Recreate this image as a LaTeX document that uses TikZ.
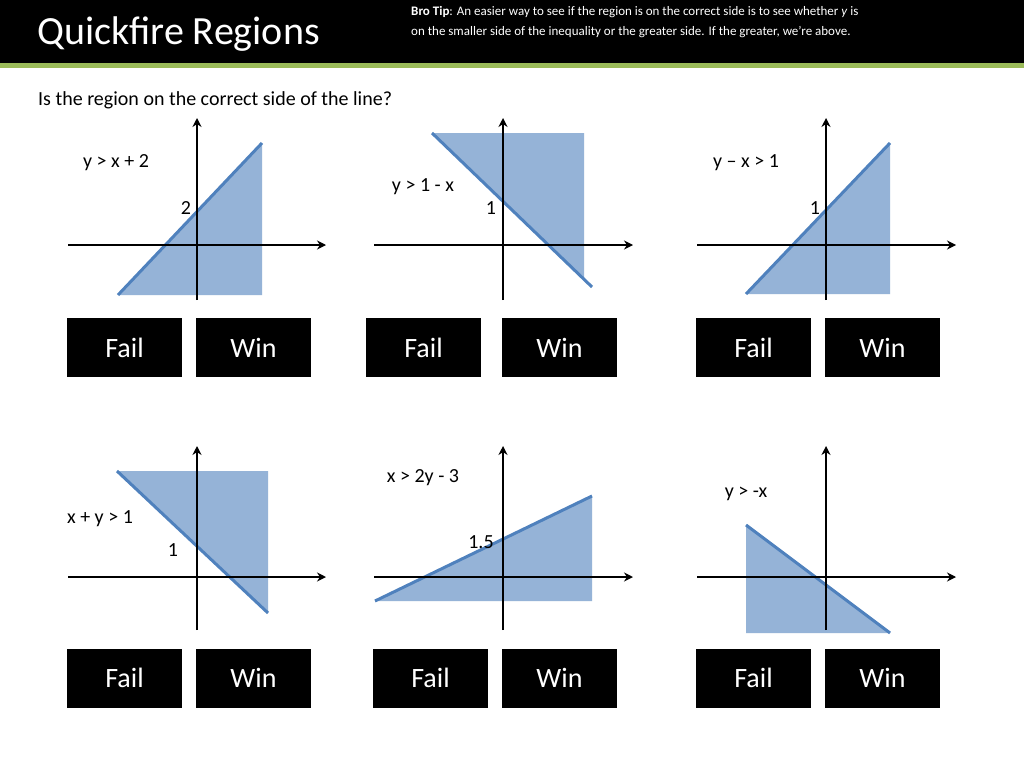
\documentclass[tikz,border=0pt]{standalone}
\usepackage{fontspec}
\setmainfont{Carlito}
\usetikzlibrary{arrows.meta, positioning}
\definecolor{regfill}{RGB}{149,179,215}
\definecolor{regline}{RGB}{79,129,189}
\definecolor{bargreen}{RGB}{155,187,89}

\begin{document}
\begin{tikzpicture}[x=1pt, y=-1pt,
  axis/.style = {draw, line width=2pt, -{Stealth[length=9pt,width=9pt]}},
  region/.style = {fill=regfill, draw=none},
  bound/.style = {draw=regline, line width=3pt},
  lbl/.style = {font=\fontsize{20}{24}\selectfont, inner sep=0pt},
  btn/.style = {fill=black, text=white, minimum width=115pt, minimum height=59pt, font=\fontsize{28}{32}\selectfont, inner sep=0pt}]
  \useasboundingbox (0,0) rectangle (1024,768);
  \fill[white] (0,0) rectangle (1024,768);
  % header
  \fill[black] (0,0) rectangle (1024,63);
  \fill[bargreen] (0,63) rectangle (1024,68);
  \node[anchor=west, text=white, font=\fontsize{40}{44}\selectfont, inner sep=0pt] (title) at (37,34) {Quickfire Regions};
  \node[anchor=north west, text=white, font=\fontsize{13}{20}\selectfont, align=left, inner sep=0pt] (tip) at (411,6)
    {\textbf{Bro Tip}: An easier way to see if the region is on the correct side is to see whether \textit{y} is\\
     on the smaller side of the inequality or the greater side. If the greater, we’re above.};
  \node[lbl, anchor=west] (question) at (38,100) {Is the region on the correct side of the line?};

  % graph 1
  \coordinate (a1) at (118,295); \coordinate (b1) at (262,143); \coordinate (c1) at (262,295);
  \fill[region] (a1) -- (b1) -- (c1) -- cycle;
  \draw[bound] (a1) -- (b1);
  \coordinate (x1s) at (68,245); \coordinate (x1e) at (326,245);
  \coordinate (y1s) at (197,300); \coordinate (y1e) at (197,118);
  \draw[axis] (x1s) -- (x1e);
  \draw[axis] (y1s) -- (y1e);
  \node[lbl] (eq1) at (116,163) {y > x + 2};
  \node[lbl] (int1) at (186,208) {2};

  % graph 2
  \coordinate (a2) at (432,133); \coordinate (b2) at (592,287);
  \coordinate (c2) at (584,133); \coordinate (d2) at (584,279);
  \fill[region] (a2) -- (c2) -- (d2) -- cycle;
  \draw[bound] (a2) -- (b2);
  \coordinate (x2s) at (374,245); \coordinate (x2e) at (633,245);
  \coordinate (y2s) at (503,300); \coordinate (y2e) at (503,118);
  \draw[axis] (x2s) -- (x2e);
  \draw[axis] (y2s) -- (y2e);
  \node[lbl] (eq2) at (423,187) {y > 1 - x};
  \node[lbl] (int2) at (491,208) {1};

  % graph 3
  \coordinate (a3) at (746,294); \coordinate (b3) at (890,143); \coordinate (c3) at (890,294);
  \fill[region] (a3) -- (b3) -- (c3) -- cycle;
  \draw[bound] (a3) -- (b3);
  \coordinate (x3s) at (697,245); \coordinate (x3e) at (956,245);
  \coordinate (y3s) at (826,300); \coordinate (y3e) at (826,118);
  \draw[axis] (x3s) -- (x3e);
  \draw[axis] (y3s) -- (y3e);
  \node[lbl] (eq3) at (746,163) {y – x > 1};
  \node[lbl] (int3) at (815,208) {1};

  % graph 4
  \coordinate (a4) at (117,471); \coordinate (b4) at (268,613); \coordinate (c4) at (268,471);
  \fill[region] (a4) -- (c4) -- (b4) -- cycle;
  \draw[bound] (a4) -- (b4);
  \coordinate (x4s) at (68,577); \coordinate (x4e) at (326,577);
  \coordinate (y4s) at (197,630); \coordinate (y4e) at (197,446);
  \draw[axis] (x4s) -- (x4e);
  \draw[axis] (y4s) -- (y4e);
  \node[lbl] (eq4) at (100,519) {x + y > 1};
  \node[lbl] (int4) at (173,550) {1};

  % graph 5
  \coordinate (a5) at (375,601); \coordinate (b5) at (592,496); \coordinate (c5) at (592,601);
  \fill[region] (a5) -- (b5) -- (c5) -- cycle;
  \draw[bound] (a5) -- (b5);
  \coordinate (x5s) at (374,577); \coordinate (x5e) at (633,577);
  \coordinate (y5s) at (503,630); \coordinate (y5e) at (503,446);
  \draw[axis] (x5s) -- (x5e);
  \draw[axis] (y5s) -- (y5e);
  \node[lbl] (eq5) at (423,478) {x > 2y - 3};
  \node[lbl] (int5) at (481,542) {1.5};

  % graph 6
  \coordinate (a6) at (746,525); \coordinate (b6) at (890,633); \coordinate (c6) at (746,633);
  \fill[region] (a6) -- (b6) -- (c6) -- cycle;
  \draw[bound] (a6) -- (b6);
  \coordinate (x6s) at (697,577); \coordinate (x6e) at (956,577);
  \coordinate (y6s) at (826,630); \coordinate (y6e) at (826,446);
  \draw[axis] (x6s) -- (x6e);
  \draw[axis] (y6s) -- (y6e);
  \node[lbl] (eq6) at (746,494) {y > -x};

  % buttons
  \node[btn] (fail1) at (124.5,347.5) {Fail};
  \node[btn] (win1)  at (253.5,347.5) {Win};
  \node[btn] (fail2) at (423.5,347.5) {Fail};
  \node[btn] (win2)  at (559.5,347.5) {Win};
  \node[btn] (fail3) at (753.5,347.5) {Fail};
  \node[btn] (win3)  at (882.5,347.5) {Win};
  \node[btn] (fail4) at (124.5,678) {Fail};
  \node[btn] (win4)  at (253.5,678) {Win};
  \node[btn] (fail5) at (430.5,678) {Fail};
  \node[btn] (win5)  at (559.5,678) {Win};
  \node[btn] (fail6) at (753.5,678) {Fail};
  \node[btn] (win6)  at (882.5,678) {Win};
\end{tikzpicture}
\end{document}
